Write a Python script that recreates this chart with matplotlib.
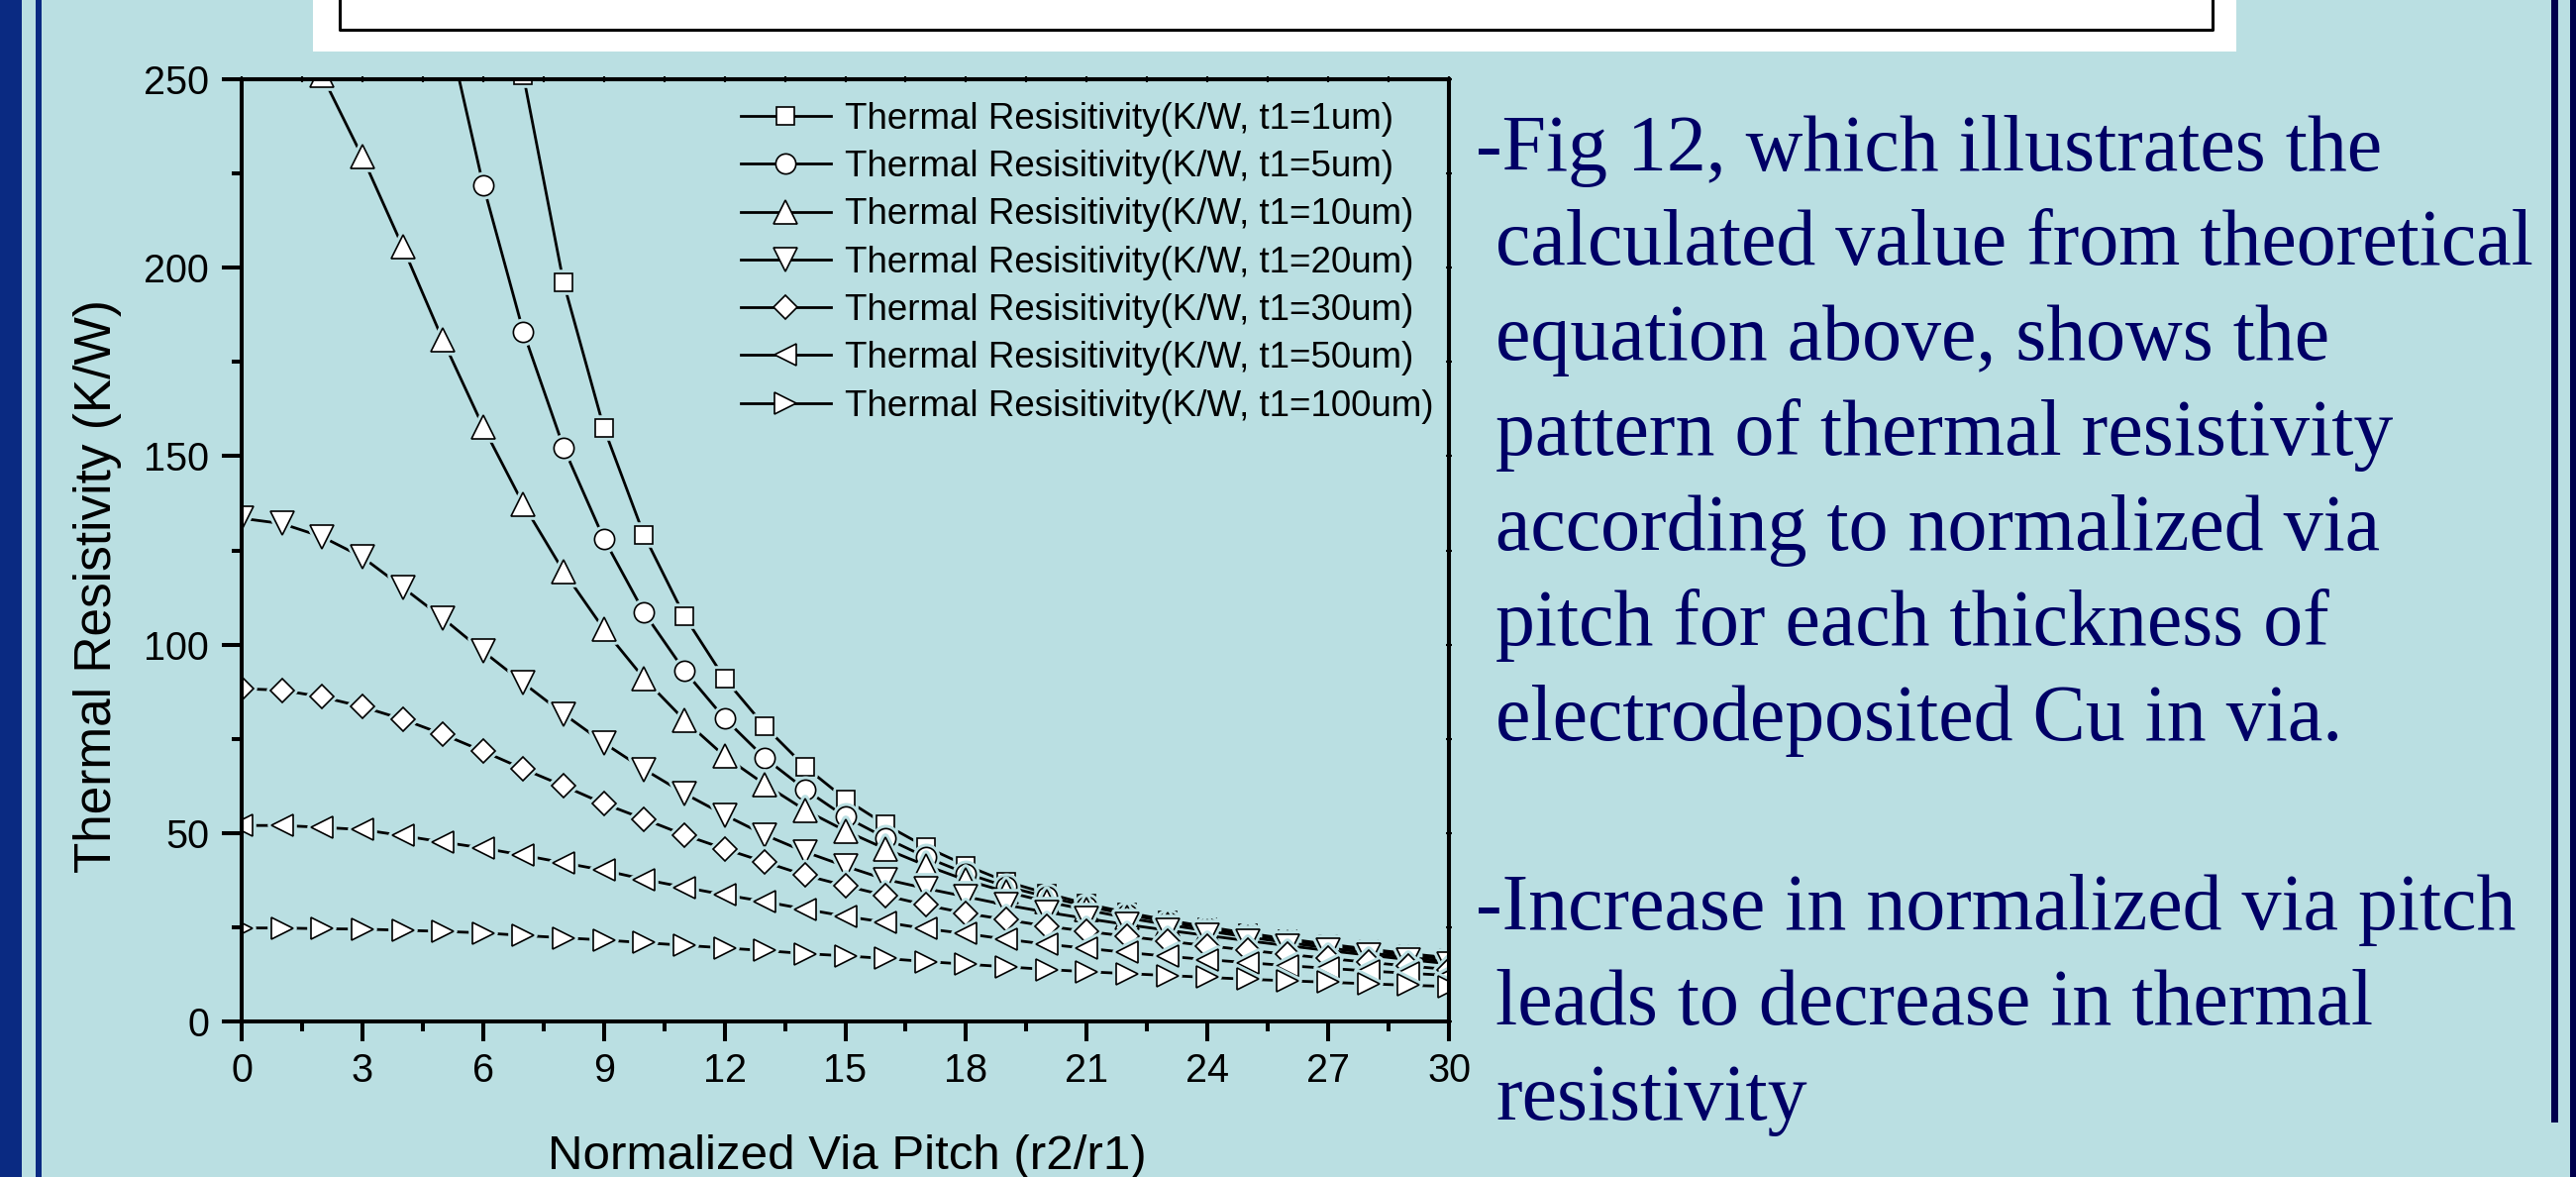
import matplotlib.pyplot as plt
from matplotlib.lines import Line2D
from matplotlib.markers import MarkerStyle
from matplotlib.patches import Rectangle
from matplotlib.ticker import MultipleLocator

plt.rcParams['font.family'] = ['Liberation Sans', 'DejaVu Sans']

# normalized via pitch r2/r1
pitch = list(range(31))

# thermal resistance (K/W), values above 250 are off scale
r_1um = [870, 850, 800, 700, 560, 430, 327, 251, 196, 157.5, 129, 107.6, 91.0, 78.3,
         67.6, 59.0, 52.2, 46.3, 41.4, 37.1, 34.0, 31.2, 28.9, 26.9, 25.1, 23.4,
         21.9, 20.5, 19.2, 18.0, 16.9]
r_5um = [500, 485, 450, 395, 330, 269, 222, 183, 152.3, 128.1, 108.5, 93.1, 80.4,
         69.9, 61.6, 54.3, 48.7, 43.6, 39.3, 35.8, 33.1, 30.6, 28.4, 26.4, 24.6,
         23.0, 21.5, 20.1, 18.8, 17.6, 16.5]
r_10um = [272, 266, 251, 229.4, 205.6, 180.8, 157.8, 137.2, 119.4, 104.1, 91.0, 80.0,
          70.4, 62.9, 56.1, 50.6, 45.8, 41.4, 37.5, 34.4, 31.8, 29.6, 27.5, 25.7,
          24.0, 22.4, 20.9, 19.5, 18.2, 17.0, 15.9]
r_20um = [133.5, 132.1, 128.6, 123.2, 115.2, 107.0, 98.2, 89.8, 81.6, 73.9, 66.9,
          60.5, 54.8, 49.5, 45.0, 41.2, 37.7, 35.3, 33.1, 30.9, 29.0, 27.3, 25.7,
          24.2, 22.8, 21.4, 20.1, 18.8, 17.6, 16.4, 15.3]
r_30um = [88.3, 87.9, 86.1, 83.5, 80.2, 76.2, 71.7, 67.0, 62.5, 57.8, 53.7, 49.5,
          45.8, 42.3, 38.8, 36.0, 33.4, 30.9, 28.7, 27.0, 25.3, 23.9, 22.6, 21.3,
          20.1, 18.9, 17.8, 16.7, 15.7, 14.7, 13.8]
r_50um = [52.0, 52.0, 51.5, 50.9, 49.3, 47.6, 46.0, 44.1, 42.1, 40.1, 37.7, 35.6,
          33.6, 31.8, 29.8, 27.9, 26.3, 24.6, 23.3, 21.8, 20.5, 19.4, 18.3, 17.3,
          16.4, 15.6, 14.8, 14.1, 13.4, 12.8, 12.2]
r_100um = [24.8, 24.8, 24.6, 24.5, 24.2, 23.9, 23.5, 22.8, 22.2, 21.6, 20.9, 20.2,
           19.5, 18.8, 18.0, 17.4, 16.7, 15.9, 15.2, 14.5, 13.8, 13.2, 12.7, 12.2,
           11.7, 11.2, 10.8, 10.4, 10.0, 9.6, 9.3]

series = [r_1um, r_5um, r_10um, r_20um, r_30um, r_50um, r_100um]
thickness = ['1', '5', '10', '20', '30', '50', '100']
labels = ['Thermal Resisitivity(K/W, t1=%sum)' % t for t in thickness]

notes = [
    "-Fig 12, which illustrates the",
    "calculated value from theoretical",
    "equation above, shows the",
    "pattern of thermal resistivity",
    "according to normalized via",
    "pitch for each thickness of",
    "electrodeposited Cu in via.",
    "",
    "-Increase in normalized via pitch",
    "leads to decrease in thermal",
    "resistivity",
]

markers = ['s', 'o', '^', 'v', 'D', '<', '>']
msizes = [13.6, 14.6, 16.6, 16.6, 12.2, 15.6, 15.6]

bg = '#BADFE2'
navy = '#0A2A82'
text_navy = '#000066'

W, H = 2601, 1188


def fx(px):
    return px / W


def fy(py):
    return 1 - py / H


fig = plt.figure(figsize=(W / 100, H / 100), dpi=100)
fig.patch.set_facecolor(bg)

# slide decoration
fig.add_artist(Rectangle((0, 0), fx(22), 1, transform=fig.transFigure, color=navy, lw=0))
fig.add_artist(Rectangle((fx(36), 0), fx(42) - fx(36), 1, transform=fig.transFigure,
                         color=navy, lw=0))
fig.add_artist(Rectangle((fx(2576), fy(1133)), fx(2583) - fx(2576), fy(0) - fy(1133),
                         transform=fig.transFigure, color='#00004D', lw=0))
fig.add_artist(Rectangle((fx(2595), 0), fx(2601) - fx(2595), 1,
                         transform=fig.transFigure, color='#00004D', lw=0))
fig.add_artist(Rectangle((fx(316), fy(52)), fx(2258) - fx(316), fy(0) - fy(52),
                         transform=fig.transFigure, color='white', lw=0))
fig.add_artist(Line2D([fx(343), fx(343), fx(2234), fx(2234)],
                      [fy(-5), fy(30), fy(30), fy(-5)],
                      transform=fig.transFigure, color='black', lw=2.2))

ax = fig.add_axes([fx(244), fy(1031), fx(1463) - fx(244), fy(80) - fy(1031)])
ax.set_facecolor('none')

handles = []
for y, m, ms, lab in zip(series, markers, msizes, labels):
    ax.plot(pitch, y, '-', color='black', lw=2.0, zorder=2)
    # gap between the line and the symbols
    ax.plot(pitch, y, ls='none', marker=MarkerStyle(m, joinstyle='round'), ms=ms,
            mfc=bg, mec=bg, mew=5.5, zorder=2)
    ax.plot(pitch, y, ls='none', marker=m, ms=ms, mfc='white', mec='black',
            mew=1.2, zorder=2)
    handles.append(Line2D([], [], color='black', lw=2.0, marker=m, ms=ms,
                          mfc='white', mec='black', mew=1.2, label=lab))

ax.set_xlim(0, 30)
ax.set_ylim(0, 250)
ax.set_xticks(range(0, 31, 3))
ax.set_yticks(range(0, 251, 50))
ax.xaxis.set_minor_locator(MultipleLocator(1.5))
ax.yaxis.set_minor_locator(MultipleLocator(25))
ax.tick_params(which='major', direction='out', length=14.4, width=2.9, labelsize=28.5)
ax.tick_params(which='minor', direction='out', length=7.2, width=2.9)
ax.tick_params(axis='x', pad=7.6)
ax.tick_params(axis='y', pad=9.4)
for sp in ax.spines.values():
    sp.set_linewidth(2.9)

top = ax.secondary_xaxis('top')
top.set_xticks(range(0, 31, 3))
top.xaxis.set_minor_locator(MultipleLocator(1.5))
top.tick_params(which='both', direction='inout', length=4, width=1.5, labeltop=False)
top.spines['top'].set_linewidth(2.9)
right = ax.secondary_yaxis('right')
right.set_yticks(range(0, 251, 50))
right.yaxis.set_minor_locator(MultipleLocator(25))
right.tick_params(which='both', direction='inout', length=4, width=1.5, labelright=False)
right.spines['right'].set_linewidth(2.9)

fig.text(fx(99), fy(592), 'Thermal Resistivity (K/W)', rotation=90, ha='center',
         va='center', fontsize=37)
fig.text(fx(855), fy(1180), 'Normalized Via Pitch (r2/r1)', ha='center',
         va='baseline', fontsize=35.5)

ax.legend(handles=handles, loc='upper left', bbox_to_anchor=(fx(748), fy(103)),
          bbox_transform=fig.transFigure, frameon=False, fontsize=26.5,
          handlelength=2.47, handletextpad=0.38, labelspacing=0.36,
          borderpad=0, borderaxespad=0)

for i, line in enumerate(notes):
    if not line:
        continue
    x0 = 1490 if line.startswith('-') else 1510
    fig.text(fx(x0), fy(171.7 + i * 95.8), line, ha='left', va='baseline',
             fontsize=57.5, color=text_navy, family=['Liberation Serif', 'DejaVu Serif'])

fig.savefig('out.png', dpi=100, facecolor=bg)
